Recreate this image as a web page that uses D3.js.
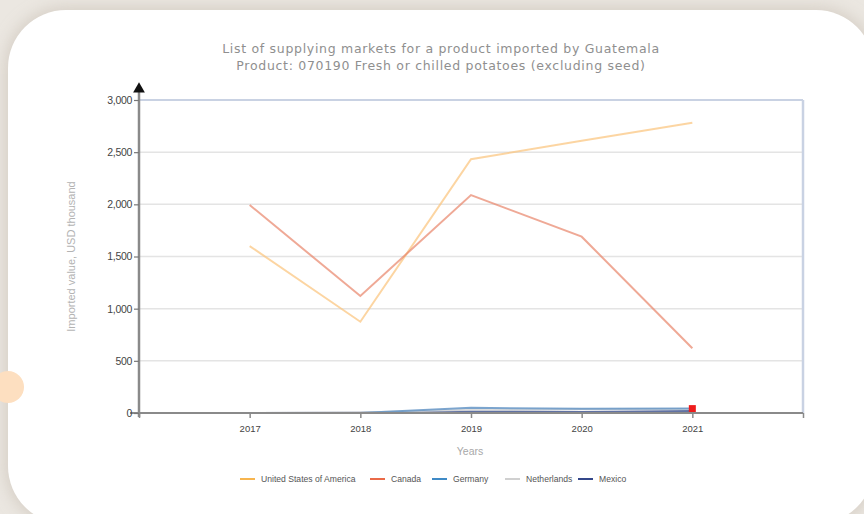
<!DOCTYPE html>
<html>
<head>
<meta charset="utf-8">
<script src="https://cdn.jsdelivr.net/npm/d3@7"></script>
<style>
  html, body { margin: 0; padding: 0; width: 864px; height: 514px; overflow: hidden; background: #ebe7e1; }
  #card {
    position: absolute; left: 8px; top: 10px; width: 866px; height: 514px;
    background: #fff; border-radius: 58px;
    box-shadow: 0 0 14px 4px rgba(200, 192, 180, 0.55);
  }
  #dot {
    position: absolute; left: -8px; top: 371px; width: 32px; height: 32px;
    border-radius: 50%; background: #fddfc0;
  }
  #chart { position: absolute; left: 0; top: 0; }
</style>
</head>
<body>
<div id="card"></div>
<div id="dot"></div>
<div id="chart"></div>
<script>
const years = [2017, 2018, 2019, 2020, 2021];
const usa = [1600, 875, 2432, 2610, 2782];
const canada = [1994, 1121, 2089, 1690, 620];
const germany = [0, 0, 50, 40, 42];
const netherlands = [0, 5, 30, 35, 38];
const mexico = [0, 2, 15, 10, 20];
const yTicks = [0, 500, 1000, 1500, 2000, 2500, 3000];
const highlight = { year: 2021, value: 42 };

const seriesNames = ["United States of America", "Canada", "Germany", "Netherlands", "Mexico"];
const seriesValues = [usa, canada, germany, netherlands, mexico];
const lineColors = ["#fbc37a", "#e8846a", "#5b8fc2", "#d4d4d4", "#3a4f8c"];
const legendColors = ["#f7b54f", "#ea6a48", "#3f8ac6", "#d0d0d0", "#34478a"];

const width = 864, height = 514;
const margin = { top: 100, right: 61, bottom: 101, left: 139 };
const innerW = width - margin.left - margin.right;
const innerH = height - margin.top - margin.bottom;

const svg = d3.select("#chart").append("svg")
  .attr("width", width)
  .attr("height", height);

const g = svg.append("g")
  .attr("transform", `translate(${margin.left},${margin.top})`);

const x = d3.scaleLinear().domain([2016, 2022]).range([0, innerW]);
const y = d3.scaleLinear().domain([0, 3000]).range([innerH, 0]);

// gridlines
g.selectAll(".grid")
  .data(yTicks.filter(d => d > 0))
  .enter().append("line")
  .attr("x1", 0).attr("x2", innerW)
  .attr("y1", d => y(d)).attr("y2", d => y(d))
  .attr("stroke", d => d === 3000 ? "#c9d2e3" : "#e4e4e4")
  .attr("stroke-width", d => d === 3000 ? 2 : 1.5);

// right frame
g.append("line")
  .attr("x1", innerW).attr("x2", innerW)
  .attr("y1", 0).attr("y2", innerH)
  .attr("stroke", "#c9d2e3").attr("stroke-width", 2.5);

// lines
const line = d3.line()
  .x((d, i) => x(years[i]))
  .y(d => y(d));

const order = [4, 3, 2, 0, 1];
order.forEach(i => {
  g.append("path")
    .datum(seriesValues[i])
    .attr("d", line)
    .attr("fill", "none")
    .attr("stroke", lineColors[i])
    .attr("stroke-opacity", i < 2 ? 0.7 : 0.8)
    .attr("stroke-width", 2);
});

// highlighted point
g.append("rect")
  .attr("x", x(highlight.year) - 3.5)
  .attr("y", y(highlight.value) - 3.5)
  .attr("width", 7).attr("height", 7)
  .attr("fill", "#ee1c1c");

// x axis
const xAxis = g.append("g")
  .attr("transform", `translate(0,${innerH})`)
  .call(d3.axisBottom(x).tickValues(d3.range(2016, 2023)).tickFormat(d => years.includes(d) ? d : "").tickSize(5).tickSizeOuter(0));
xAxis.select(".domain").attr("stroke", "#8a8a8a").attr("stroke-width", 2)
  .attr("d", `M-9,0H${innerW}`);
xAxis.selectAll(".tick line").attr("stroke", "#8a8a8a").attr("stroke-width", 1.5);
xAxis.selectAll("text")
  .attr("dy", "1.15em")
  .style("font-family", "Liberation Sans, Arial, sans-serif")
  .style("font-size", "9.5px")
  .style("fill", "#444");

// y axis
const yAxis = g.append("g")
  .call(d3.axisLeft(y).tickValues(yTicks).tickFormat(d3.format(",")).tickSize(5).tickSizeOuter(0));
yAxis.select(".domain").attr("stroke", "#8a8a8a").attr("stroke-width", 2.5)
  .attr("d", `M0,${innerH + 4}V-10`);
yAxis.selectAll(".tick line").attr("stroke", "#777").attr("stroke-width", 1.2);
yAxis.selectAll("text")
  .attr("x", -7)
  .style("font-family", "Liberation Sans, Arial, sans-serif")
  .style("font-size", "10.5px")
  .style("letter-spacing", "-0.3px")
  .style("fill", "#444");

// arrow
g.append("path")
  .attr("d", d3.symbol().type(d3.symbolTriangle).size(60))
  .attr("transform", `translate(0,-11)`)
  .attr("fill", "#111");

// title
const title = svg.append("text")
  .attr("x", 441).attr("y", 53)
  .attr("text-anchor", "middle")
  .style("font-family", "'DejaVu Sans', Verdana, sans-serif")
  .style("font-size", "12.5px")
  .style("letter-spacing", "0.7px")
  .style("fill", "#8f8f8f");
title.append("tspan").attr("x", 441).text("List of supplying markets for a product imported by Guatemala");
title.append("tspan").attr("x", 441).attr("dy", 17).text("Product: 070190 Fresh or chilled potatoes (excluding seed)");

// axis titles
svg.append("text")
  .attr("transform", `translate(75,${margin.top + innerH / 2}) rotate(-90)`)
  .attr("text-anchor", "middle")
  .style("font-family", "Liberation Sans, Arial, sans-serif")
  .style("font-size", "11px")
  .style("fill", "#b3b3b3")
  .text("Imported value, USD thousand");

svg.append("text")
  .attr("x", 470).attr("y", 455)
  .attr("text-anchor", "middle")
  .style("font-family", "Liberation Sans, Arial, sans-serif")
  .style("font-size", "10.5px")
  .style("fill", "#a8a8a8")
  .text("Years");

// legend
const legendX = [240, 370, 432, 505, 578];
const legend = svg.append("g").attr("transform", "translate(0,479)");
seriesNames.forEach((name, i) => {
  const item = legend.append("g").attr("transform", `translate(${legendX[i]},0)`);
  item.append("line")
    .attr("x1", 0).attr("x2", 15)
    .attr("stroke", legendColors[i]).attr("stroke-width", 2);
  item.append("text")
    .attr("x", 21).attr("y", 3)
    .style("font-family", "Liberation Sans, Arial, sans-serif")
    .style("font-size", "8.6px")
    .style("fill", "#555")
    .text(name);
});
</script>
</body>
</html>
